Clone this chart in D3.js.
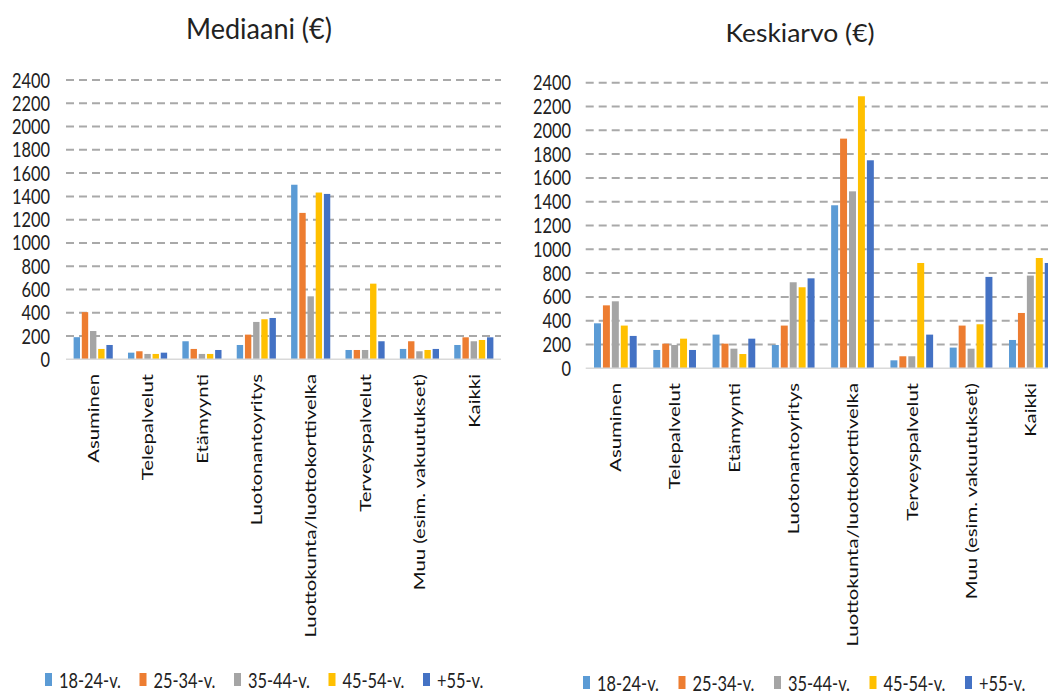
<!DOCTYPE html>
<html>
<head>
<meta charset="utf-8">
<script src="https://cdn.jsdelivr.net/npm/d3@7"></script>
<style>
  html, body { margin: 0; padding: 0; background: #fff; }
  svg { display: block; font-family: Lato, "Open Sans", sans-serif; }
</style>
</head>
<body>
<svg id="chart" width="1048" height="697"></svg>
<script>
// Categories of debt / payment type
const categories = [
  "Asuminen", "Telepalvelut", "Etämyynti", "Luotonantoyritys",
  "Luottokunta/luottokorttivelka", "Terveyspalvelut",
  "Muu (esim. vakuutukset)", "Kaikki"
];

// Age groups (series)
const ageGroups = ["18-24-v.", "25-34-v.", "35-44-v.", "45-54-v.", "+55-v."];
const colors = ["#5B9BD5", "#ED7D31", "#A5A5A5", "#FFC000", "#4472C4"];

// Median (€) per category, one array per age group
const median18_24 = [190, 57, 155, 123, 1500, 80, 89, 123];
const median25_34 = [405, 69, 89, 212, 1258, 80, 155, 189];
const median35_44 = [243, 46, 46, 321, 541, 80, 69, 155];
const median45_54 = [89, 46, 46, 344, 1433, 650, 80, 166];
const median55 = [123, 57, 80, 355, 1421, 155, 89, 189];

// Mean (€) per category, one array per age group
const mean18_24 = [378, 154, 283, 196, 1370, 67, 174, 238];
const mean25_34 = [529, 207, 207, 359, 1930, 101, 359, 465];
const mean35_44 = [563, 196, 165, 723, 1487, 101, 165, 779];
const mean45_54 = [359, 249, 120, 681, 2286, 885, 370, 927];
const mean55 = [272, 154, 249, 756, 1748, 283, 768, 885];

// Y-axis tick labels
const yTicks = [0, 200, 400, 600, 800, 1000, 1200, 1400, 1600, 1800, 2000, 2200, 2400];

const svg = d3.select("#chart");
const K = 1.27; // vertical stretch applied to axis and legend text

function drawPanel(opts) {
  const { title, series, x0, x1, yTop, yBottom, tickRight, labelTop,
          titleX, titleY, titleSize, titleStretch, legendX, legendStep, legendY } = opts;

  const g = svg.append("g");

  const y = d3.scaleLinear().domain([0, 2400]).range([yBottom, yTop]);
  const xCat = d3.scaleBand().domain(categories).range([x0, x1])
    .paddingInner(0.28).paddingOuter(0.14);
  const xSer = d3.scaleBand().domain(ageGroups).range([0, xCat.bandwidth()])
    .paddingInner(0.22);

  // dashed gridlines
  g.append("g").selectAll("line")
    .data(yTicks.filter(d => d > 0))
    .join("line")
    .attr("x1", x0).attr("x2", x1)
    .attr("y1", d => y(d)).attr("y2", d => y(d))
    .attr("stroke", "#a9a9a9")
    .attr("stroke-width", 2)
    .attr("stroke-dasharray", "8,5");

  // tick labels
  g.append("g").selectAll("text")
    .data(yTicks)
    .join("text")
    .attr("transform", d => `translate(${tickRight},${y(d)}) scale(1,${K})`)
    .attr("dy", "0.36em")
    .attr("text-anchor", "end")
    .attr("font-size", 16.4)
    .attr("fill", "#222")
    .text(d => d);

  // bars
  const groups = g.append("g").selectAll("g")
    .data(categories.map((c, i) => ({ c, vals: series.map(s => s[i]) })))
    .join("g")
    .attr("transform", d => `translate(${xCat(d.c)},0)`);
  groups.selectAll("rect")
    .data(d => d.vals.map((v, j) => ({ v, k: ageGroups[j], j })))
    .join("rect")
    .attr("x", d => xSer(d.k))
    .attr("width", xSer.bandwidth())
    .attr("y", d => y(d.v))
    .attr("height", d => y(0) - y(d.v))
    .attr("fill", d => colors[d.j]);

  // baseline
  g.append("line")
    .attr("x1", x0).attr("x2", x1)
    .attr("y1", y(0)).attr("y2", y(0))
    .attr("stroke", "#d9d9d9").attr("stroke-width", 1.5);

  // rotated category labels
  g.append("g").selectAll("text")
    .data(categories)
    .join("text")
    .attr("transform", d => `translate(${xCat(d) + xCat.bandwidth() / 2},${labelTop}) scale(1,${K}) rotate(-90)`)
    .attr("dy", "0.36em")
    .attr("text-anchor", "end")
    .attr("font-size", 16)
    .attr("fill", "#111")
    .text(d => d);

  // title
  svg.append("text")
    .attr("transform", `translate(${titleX},${titleY}) scale(1,${titleStretch})`)
    .attr("text-anchor", "middle")
    .attr("font-size", titleSize)
    .attr("fill", "#222")
    .text(title);

  // legend
  const leg = svg.append("g").selectAll("g")
    .data(ageGroups)
    .join("g")
    .attr("transform", (d, i) => `translate(${legendX + i * legendStep},${legendY})`);
  leg.append("rect")
    .attr("x", 0).attr("y", -15)
    .attr("width", 7).attr("height", 13)
    .attr("fill", (d, i) => colors[i]);
  leg.append("text")
    .attr("transform", `translate(14,0) scale(1,${K})`)
    .attr("font-size", 16.4)
    .attr("fill", "#222")
    .text(d => d);
}

drawPanel({
  title: "Mediaani (€)",
  series: [median18_24, median25_34, median35_44, median45_54, median55],
  x0: 66, x1: 501, yTop: 80, yBottom: 359.3, tickRight: 50, labelTop: 374,
  titleX: 259, titleY: 39, titleSize: 27, titleStretch: 1.08,
  legendX: 45, legendStep: 94.5, legendY: 688
});

drawPanel({
  title: "Keskiarvo (€)",
  series: [mean18_24, mean25_34, mean35_44, mean45_54, mean55],
  x0: 585.7, x1: 1060, yTop: 82.7, yBottom: 368.3, tickRight: 571, labelTop: 383,
  titleX: 800, titleY: 42, titleSize: 26.5, titleStretch: 0.95,
  legendX: 583, legendStep: 95.5, legendY: 691
});
</script>
</body>
</html>
